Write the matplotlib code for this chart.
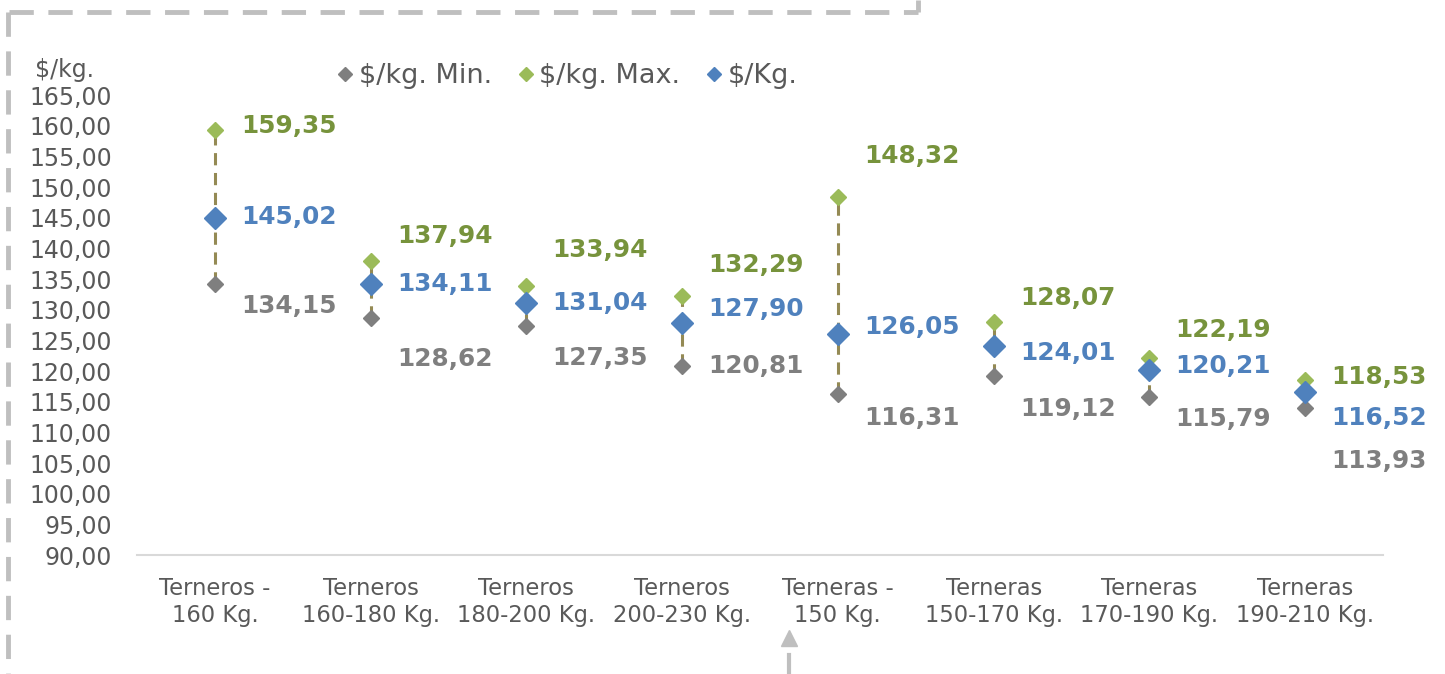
import matplotlib.pyplot as plt
from matplotlib.lines import Line2D

categories = ['Terneros -\n160 Kg.', 'Terneros\n160-180 Kg.', 'Terneros\n180-200 Kg.',
              'Terneros\n200-230 Kg.', 'Terneras -\n150 Kg.', 'Terneras\n150-170 Kg.',
              'Terneras\n170-190 Kg.', 'Terneras\n190-210 Kg.']
price_min = [134.15, 128.62, 127.35, 120.81, 116.31, 119.12, 115.79, 113.93]
price_max = [159.35, 137.94, 133.94, 132.29, 148.32, 128.07, 122.19, 118.53]
price_avg = [145.02, 134.11, 131.04, 127.90, 126.05, 124.01, 120.21, 116.52]
yticks = list(range(90, 166, 5))

# label vertical offsets (pixels, image-down positive), placed by hand like in the original
dy_max = [-4, -25, -36, -31, -41, -24, -28, -3]
dy_avg = [-1, 0, 0, -14, -7, 7, -4, 26]
dy_min = [22, 41, 32, 0, 24, 33, 22, 53]

GRAY, GREEN, BLUE = '#7F7F7F', '#9BBB59', '#4F81BD'
GREEN_TXT = '#77933C'
LINE = '#948A54'
TXT = '#595959'

plt.rcParams['font.family'] = ['DejaVu Sans']

fig = plt.figure(figsize=(14.45, 6.74), dpi=100)
ax = fig.add_axes([137 / 1445, 1 - 555 / 674, 1246 / 1445, 460 / 674])

x = list(range(len(categories)))
ax.vlines(x, price_min, price_max, colors=LINE, linestyles=(0, (4, 2.5)), linewidth=2.2, zorder=1)
ax.plot(x, price_min, 'D', color=GRAY, markersize=8, ls='none', zorder=3)
ax.plot(x, price_max, 'D', color=GREEN, markersize=8, ls='none', zorder=3)
ax.plot(x, price_avg, 'D', color=BLUE, markersize=11, ls='none', zorder=4)

def fmt(v):
    return f'{v:.2f}'.replace('.', ',')

for i in x:
    for vals, dys, col in [(price_max, dy_max, GREEN_TXT), (price_avg, dy_avg, BLUE), (price_min, dy_min, GRAY)]:
        ax.annotate(fmt(vals[i]), (i, vals[i]), xytext=(74 * 0.72, -dys[i] * 0.72),
                    textcoords='offset points', ha='center', va='center', color=col,
                    fontsize=17.8, fontweight='bold')

ax.set_xlim(-0.5, len(categories) - 0.5)
ax.set_ylim(90, 165)
ax.set_yticks(yticks)
ax.set_yticklabels([f'{v},00' for v in yticks], fontsize=17, color=TXT)
ax.set_xticks(x)
ax.set_xticklabels(categories, fontsize=16.3, color=TXT)
ax.tick_params(axis='both', length=0)
ax.tick_params(axis='x', pad=16)
ax.tick_params(axis='y', pad=18)
for s in ['top', 'right', 'left']:
    ax.spines[s].set_visible(False)
ax.spines['bottom'].set_color('#D9D9D9')
ax.spines['bottom'].set_linewidth(1.5)

fig.text(35 / 1445, 1 - 70 / 674, '$/kg.', fontsize=17, color=TXT, va='center')

handles = [Line2D([], [], marker='D', color=c, ls='none', markersize=7.5) for c in (GRAY, GREEN, BLUE)]
fig.legend(handles, ['$/kg. Min.', '$/kg. Max.', '$/Kg.'], loc='center left',
           bbox_to_anchor=(318 / 1445, 1 - 76 / 674), ncol=3, frameon=False,
           fontsize=19.5, labelcolor=TXT, handletextpad=0.0, columnspacing=0.75,
           handlelength=1.0, borderpad=0)

# dashed outline of the surrounding box
dash = dict(color='#BFBFBF', lw=3.5, ls=(0, (5, 3)), transform=fig.transFigure, clip_on=False)
fig.add_artist(Line2D([9 / 1445, 918 / 1445], [1 - 12 / 674] * 2, **dash))
fig.add_artist(Line2D([918 / 1445] * 2, [1 - 12 / 674, 1], **dash))
fig.add_artist(Line2D([8 / 1445] * 2, [1 - 12 / 674, 0], **dash))
fig.add_artist(Line2D([789 / 1445] * 2, [0, 1 - 655 / 674], color='#BFBFBF', lw=3,
                      transform=fig.transFigure))
fig.add_artist(Line2D([789 / 1445], [1 - 638 / 674], marker='^', color='#BFBFBF',
                      markersize=11, transform=fig.transFigure))

fig.savefig('out.png', dpi=100)
